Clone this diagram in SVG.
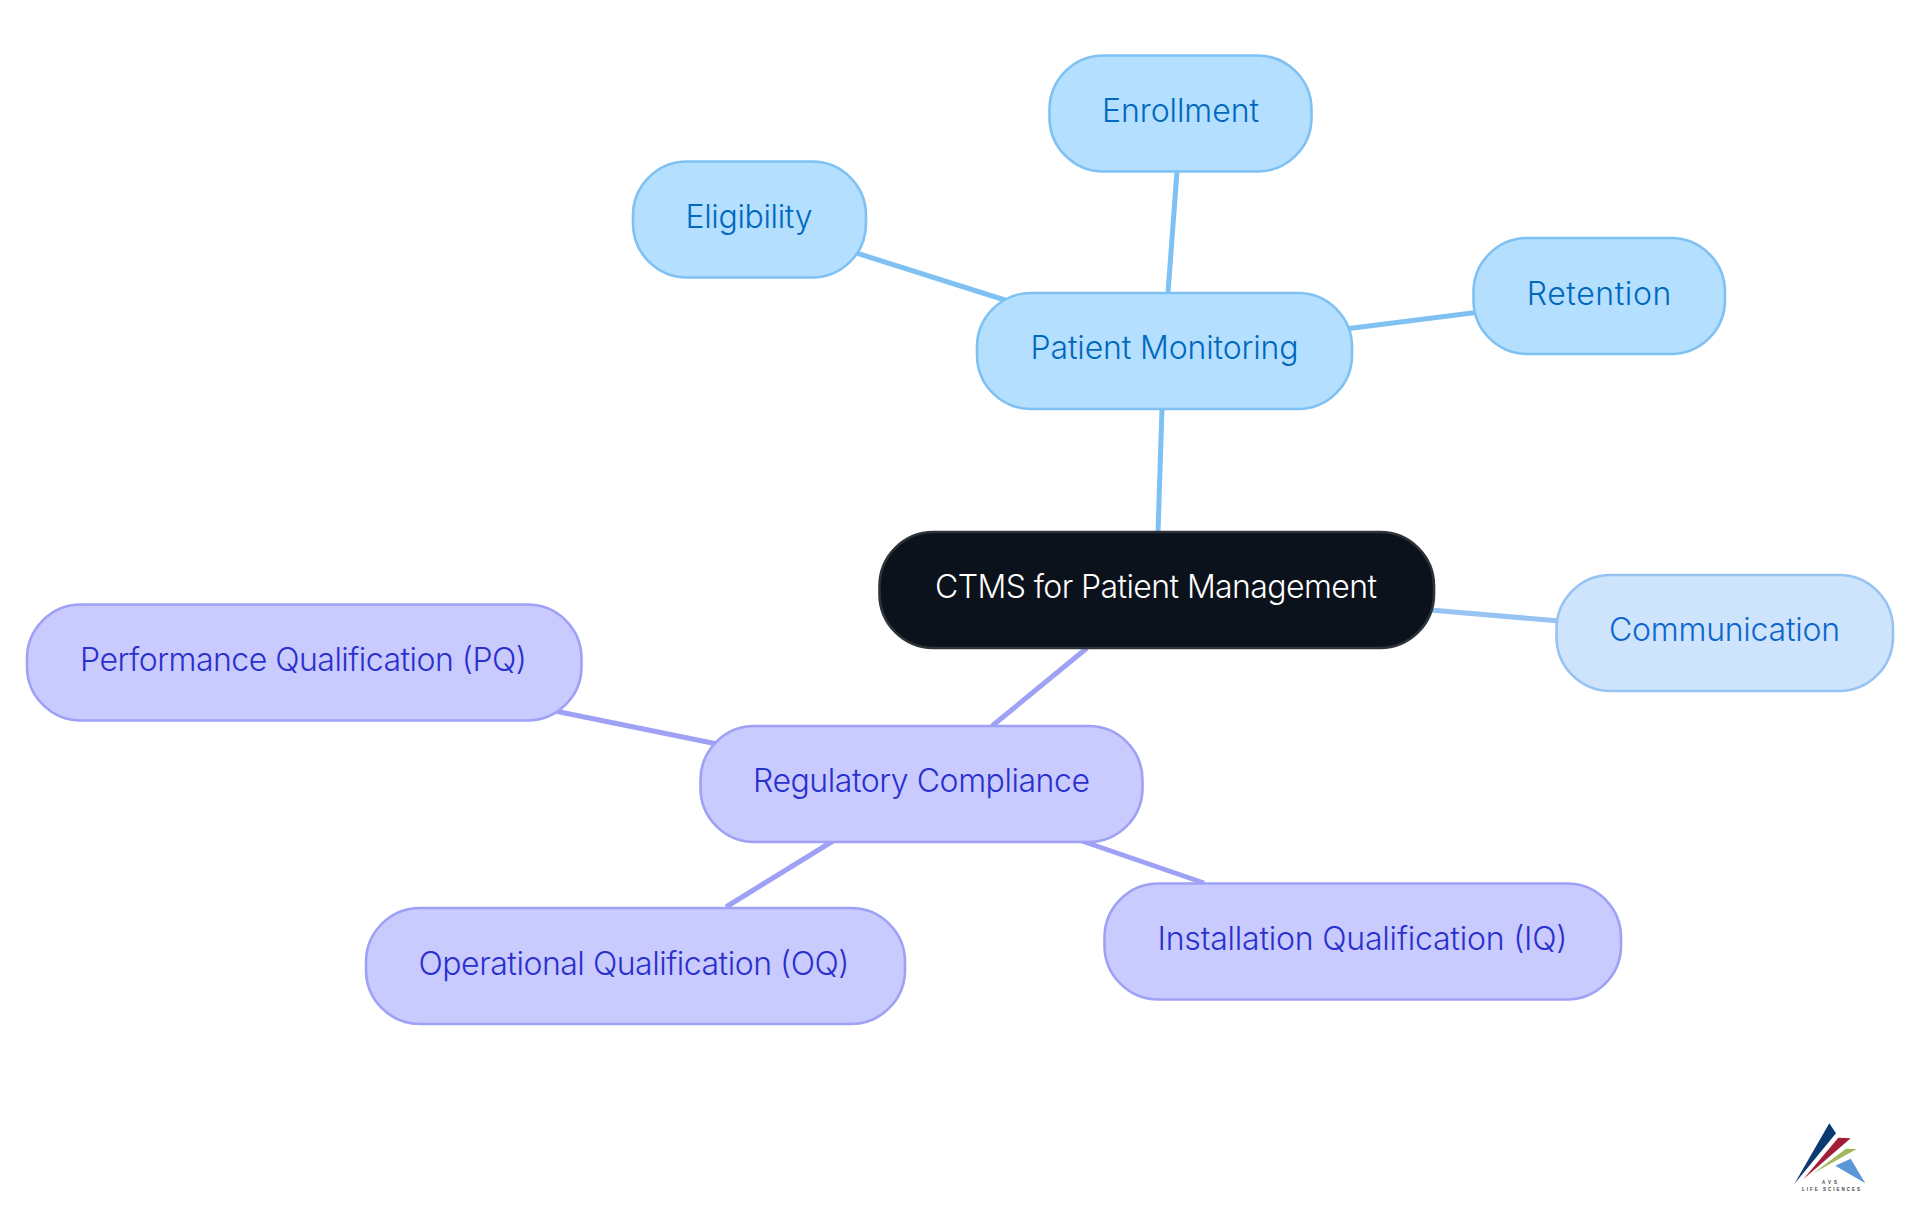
<svg xmlns="http://www.w3.org/2000/svg" width="1920" height="1215" viewBox="0 0 1920 1215">
<style>
.n rect{stroke-width:2.6}
.n text{font-family:Inter,"Noto Sans","Liberation Sans",sans-serif;font-size:32px;font-weight:300;text-anchor:middle}
.b rect{fill:#b4dfff;stroke:#7fc1f3}.b text{fill:#0068bd}
.p rect{fill:#c9cafe;stroke:#9ea1f5}.p text{fill:#2a30cc}
.c rect{fill:#cde4fc;stroke:#97c3f2}.c text{fill:#0e66cc}
.r rect{fill:#0b121b;stroke:#2e3339}.r text{fill:#ffffff}
#connectors line{stroke-width:5;fill:none}
.lb{stroke:#7fc1f3}.lc{stroke:#97c3f2}.lp{stroke:#9ea1f5}
.logo{font-family:"Liberation Sans",sans-serif;fill:#444;text-anchor:middle;font-weight:bold}
</style>
<rect width="1920" height="1215" fill="#ffffff"/>
<g id="connectors">
<line class="lb" x1="1162" y1="409" x2="1158" y2="532"/>
<line class="lb" x1="1177" y1="171" x2="1168" y2="293"/>
<line class="lb" x1="850" y1="251" x2="1008" y2="301"/>
<line class="lb" x1="1480" y1="312" x2="1345" y2="329"/>
<line class="lc" x1="1430" y1="610" x2="1560" y2="621"/>
<line class="lp" x1="1087" y1="648" x2="992" y2="726"/>
<line class="lp" x1="550" y1="710" x2="722" y2="745"/>
<line class="lp" x1="833" y1="841" x2="726" y2="907"/>
<line class="lp" x1="1082" y1="841" x2="1204" y2="883"/>
</g>
<g id="node-root" class="n r"><rect x="879.500" y="532" width="554.500" height="116" rx="54"/><text x="1156" y="597.500" textLength="442">CTMS for Patient Management</text></g>
<g id="node-patient" class="n b"><rect x="977" y="293" width="375" height="116" rx="54"/><text x="1164.500" y="358.500" textLength="268">Patient Monitoring</text></g>
<g id="node-enrollment" class="n b"><rect x="1049.500" y="55.500" width="262" height="116" rx="54"/><text x="1180.500" y="122" textLength="157">Enrollment</text></g>
<g id="node-eligibility" class="n b"><rect x="633" y="161.500" width="233" height="116" rx="54"/><text x="749" y="228" textLength="127">Eligibility</text></g>
<g id="node-retention" class="n b"><rect x="1473.500" y="238" width="251.500" height="116" rx="54"/><text x="1599" y="305" textLength="144.500">Retention</text></g>
<g id="node-communication" class="n c"><rect x="1556.500" y="575" width="336.500" height="116" rx="54"/><text x="1724.500" y="641" textLength="231">Communication</text></g>
<g id="node-regulatory" class="n p"><rect x="700.500" y="726" width="442" height="116" rx="54"/><text x="921.500" y="792" textLength="337">Regulatory Compliance</text></g>
<g id="node-pq" class="n p"><rect x="27" y="604.500" width="554.500" height="116" rx="54"/><text x="303.500" y="671" textLength="447">Performance Qualification (PQ)</text></g>
<g id="node-oq" class="n p"><rect x="366" y="908" width="539" height="116" rx="54"/><text x="634" y="975" textLength="431">Operational Qualification (OQ)</text></g>
<g id="node-iq" class="n p"><rect x="1104.500" y="883.500" width="516.500" height="116" rx="54"/><text x="1362.500" y="950" textLength="410">Installation Qualification (IQ)</text></g>
<g id="logo">
<polygon points="1829.300,1123.300 1836,1133.300 1794.300,1184" fill="#0b3a70"/>
<polygon points="1838.300,1137.700 1850.700,1138.300 1803.300,1179.300" fill="#a31d36"/>
<polygon points="1846,1148.700 1856.700,1149 1813.300,1173.300" fill="#a3b85c"/>
<polygon points="1850.700,1158.700 1865.300,1183.300 1835.300,1165.700" fill="#5b97d8"/>
<text class="logo" x="1829.500" y="1184" font-size="4.500" textLength="15">AVS</text>
<text class="logo" x="1831" y="1191" font-size="4.500" textLength="58">LIFE SCIENCES</text>
</g>
</svg>
